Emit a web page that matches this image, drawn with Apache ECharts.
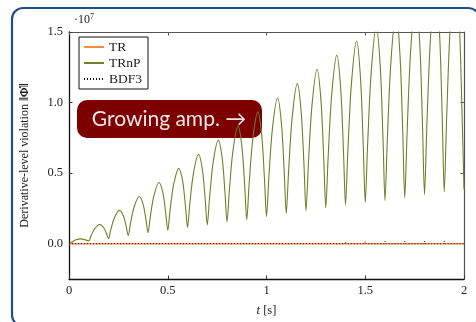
<!DOCTYPE html>
<html>
<head>
<meta charset="utf-8">
<script src="https://cdn.jsdelivr.net/npm/echarts@6/dist/echarts.min.js"></script>
<style>
html,body{margin:0;padding:0;background:#fff;}
#chart{width:476px;height:322px;}
</style>
</head>
<body>
<div id="chart"></div>
<script>
// ---- data (values in units of 1e7) ----
var seriesNames = ['TR', 'TRnP', 'BDF3'];
var xTickValues = [0, 0.5, 1, 1.5, 2];
var yTickValues = [0, 0.5, 1, 1.5];
var yTickLabels = ['0.0', '0.5', '1.0', '1.5'];

var tTR = [0, 2];
var vTR = [0, 0];

var tTRnP = [
  0, 0.015, 0.035, 0.06, 0.085,
  0.1, 0.112, 0.13, 0.156, 0.176, 0.19,
  0.2, 0.212, 0.23, 0.256, 0.276, 0.29,
  0.3, 0.312, 0.33, 0.356, 0.376, 0.39,
  0.4, 0.412, 0.43, 0.456, 0.476, 0.49,
  0.5, 0.512, 0.53, 0.556, 0.576, 0.59,
  0.6, 0.612, 0.63, 0.656, 0.676, 0.69,
  0.7, 0.712, 0.73, 0.756, 0.776, 0.79,
  0.8, 0.812, 0.83, 0.856, 0.876, 0.89,
  0.9, 0.912, 0.93, 0.956, 0.976, 0.99,
  1.0, 1.012, 1.03, 1.056, 1.076, 1.09,
  1.1, 1.112, 1.13, 1.156, 1.176, 1.19,
  1.2, 1.212, 1.23, 1.256, 1.276, 1.29,
  1.3, 1.312, 1.33, 1.356, 1.376, 1.39,
  1.4, 1.412, 1.43, 1.456, 1.476, 1.49,
  1.5, 1.512, 1.53, 1.556, 1.576, 1.59,
  1.6, 1.612, 1.63, 1.656, 1.676, 1.69,
  1.7, 1.712, 1.73, 1.756, 1.776, 1.79,
  1.8, 1.812, 1.83, 1.856, 1.876, 1.89,
  1.9, 1.912, 1.93, 1.956, 1.976, 1.99,
  2.0
];
var vTRnP = [
  0, 0.012, 0.028, 0.034, 0.027,
  0.020, 0.058, 0.106, 0.136, 0.113, 0.070,
  0.035, 0.101, 0.184, 0.236, 0.195, 0.120,
  0.058, 0.149, 0.262, 0.334, 0.275, 0.168,
  0.078, 0.195, 0.341, 0.434, 0.356, 0.214,
  0.095, 0.240, 0.420, 0.534, 0.438, 0.262,
  0.115, 0.286, 0.499, 0.634, 0.519, 0.308,
  0.133, 0.331, 0.578, 0.734, 0.601, 0.358,
  0.155, 0.379, 0.657, 0.834, 0.681, 0.402,
  0.170, 0.422, 0.735, 0.934, 0.764, 0.452,
  0.193, 0.471, 0.815, 1.034, 0.846, 0.502,
  0.215, 0.518, 0.895, 1.134, 0.927, 0.549,
  0.234, 0.565, 0.975, 1.236, 1.010, 0.597,
  0.253, 0.610, 1.054, 1.336, 1.092, 0.646,
  0.275, 0.658, 1.134, 1.436, 1.173, 0.693,
  0.293, 0.703, 1.213, 1.536, 1.253, 0.737,
  0.307, 0.746, 1.290, 1.636, 1.334, 0.784,
  0.325, 0.791, 1.369, 1.736, 1.417, 0.834,
  0.348, 0.839, 1.449, 1.836, 1.498, 0.881,
  0.367, 0.885, 1.528, 1.936, 1.579, 0.928,
  0.385
];

var tBDF3 = [
  0, 0.897, 0.9, 0.903, 0.997, 1.0, 1.003, 1.097, 1.1, 1.103,
  1.197, 1.2, 1.203, 1.297, 1.3, 1.303, 1.397, 1.4, 1.403,
  1.497, 1.5, 1.503, 1.597, 1.6, 1.603, 1.697, 1.7, 1.703,
  1.797, 1.8, 1.803, 1.897, 1.9, 1.903, 2.0
];
var vBDF3 = [
  0, 0, 0.010, 0, 0, 0.011, 0, 0, 0.012, 0,
  0, 0.013, 0, 0, 0.014, 0, 0, 0.015, 0,
  0, 0.016, 0, 0, 0.017, 0, 0, 0.018, 0,
  0, 0.019, 0, 0, 0.020, 0, 0
];

function pairs(t, v) { return t.map(function (x, i) { return [x, v[i]]; }); }

var serif = 'Liberation Serif';
var chart = echarts.init(document.getElementById('chart'), null, { renderer: 'canvas' });

var option = {
  backgroundColor: '#fff',
  animation: false,
  grid: { left: 69, right: 12, top: 32, bottom: 43 },
  legend: {
    orient: 'vertical',
    left: 79, top: 37,
    padding: [3, 6, 3, 4],
    itemGap: 2,
    itemWidth: 20,
    itemHeight: 12,
    backgroundColor: '#fff',
    borderColor: '#111',
    borderWidth: 1,
    borderRadius: 0,
    itemStyle: { opacity: 0 },
    data: seriesNames,
    textStyle: { fontFamily: serif, fontSize: 13.5, color: '#222', lineHeight: 12 }
  },
  xAxis: [{
    type: 'value', min: 0, max: 2, interval: 0.5, position: 'bottom',
    name: '{i|t} [s]', nameLocation: 'middle', nameGap: 25,
    nameTextStyle: { fontFamily: serif, fontSize: 12.5, color: '#222',
      rich: { i: { fontFamily: serif, fontStyle: 'italic', fontSize: 12.5, color: '#222' } } },
    axisLine: { show: true, onZero: false, lineStyle: { color: '#111', width: 1.3 } },
    axisTick: { show: true, inside: true, length: 3.5, lineStyle: { color: '#333' } },
    axisLabel: { fontFamily: serif, fontSize: 12.5, color: '#222', margin: 5,
      customValues: xTickValues, formatter: function (v) { return String(v); } },
    splitLine: { show: false }
  }, {
    type: 'value', min: 0, max: 2, interval: 0.5, position: 'top',
    axisLine: { show: true, onZero: false, lineStyle: { color: '#555', width: 1.2 } },
    axisTick: { show: true, inside: true, length: 3.5, lineStyle: { color: '#555' } },
    axisLabel: { show: false },
    splitLine: { show: false }
  }],
  yAxis: [{
    type: 'value', min: -0.25, max: 1.5, position: 'left',
    name: 'Derivative-level violation {n|‖Φ̇‖}', nameLocation: 'middle', nameGap: 38,
    nameTextStyle: { fontFamily: serif, fontSize: 12, color: '#222',
      rich: { n: { fontFamily: serif, fontSize: 12, fontWeight: 'bold', color: '#222' } } },
    axisLine: { show: true, onZero: false, lineStyle: { color: '#111', width: 1.3 } },
    axisTick: { show: true, inside: true, length: 3.5, customValues: yTickValues, lineStyle: { color: '#333' } },
    axisLabel: { fontFamily: serif, fontSize: 12.5, color: '#222', margin: 6,
      customValues: yTickValues,
      formatter: function (v) { var i = yTickValues.indexOf(v); return i >= 0 ? yTickLabels[i] : ''; } },
    splitLine: { show: false }
  }, {
    type: 'value', min: -0.25, max: 1.5, position: 'right',
    axisLine: { show: true, onZero: false, lineStyle: { color: '#555', width: 1.2 } },
    axisTick: { show: true, inside: true, length: 3.5, customValues: yTickValues, lineStyle: { color: '#555' } },
    axisLabel: { show: false },
    splitLine: { show: false }
  }],
  series: [{
    name: 'TR', type: 'line', data: pairs(tTR, vTR), showSymbol: false, symbol: 'none',
    lineStyle: { color: '#ff8a3d', width: 1.6 }, itemStyle: { color: '#ff8a3d' }, z: 2
  }, {
    name: 'TRnP', type: 'line', data: pairs(tTRnP, vTRnP), showSymbol: false, symbol: 'none',
    smooth: 0.3,
    lineStyle: { color: '#6b8226', width: 1.1 }, itemStyle: { color: '#6b8226' }, z: 3
  }, {
    name: 'BDF3', type: 'line', data: pairs(tBDF3, vBDF3), showSymbol: false, symbol: 'none',
    lineStyle: { color: '#111', width: 1, type: [1, 2] }, itemStyle: { color: '#111' }, z: 4
  }],
  graphic: [{
    type: 'rect', left: 9.5, top: 5.5, z: 100, silent: true,
    shape: { width: 467.5, height: 318, r: 11 },
    style: { fill: 'none', stroke: '#1f4f8b', lineWidth: 2.2 }
  }, {
    type: 'text', left: 74, top: 13, z: 100,
    style: { text: '·10{s|7}', font: '12px "Liberation Serif"', fill: '#222',
      rich: { s: { fontSize: 8, fontFamily: serif, fill: '#222', verticalAlign: 'top', padding: [0, 0, 6, 0] } } }
  }, {
    type: 'group', left: 77, top: 100, z: 120,
    children: [{
      type: 'rect', shape: { x: 0, y: 0, width: 185, height: 38, r: 10 },
      style: { fill: '#7d0000' }
    }, {
      type: 'text', x: 92, y: 19,
      style: { text: 'Growing amp. →', font: '21px Lato', fill: '#f3e6e6', align: 'center', verticalAlign: 'middle' }
    }]
  }]
};
chart.setOption(option);
</script>
</body>
</html>
